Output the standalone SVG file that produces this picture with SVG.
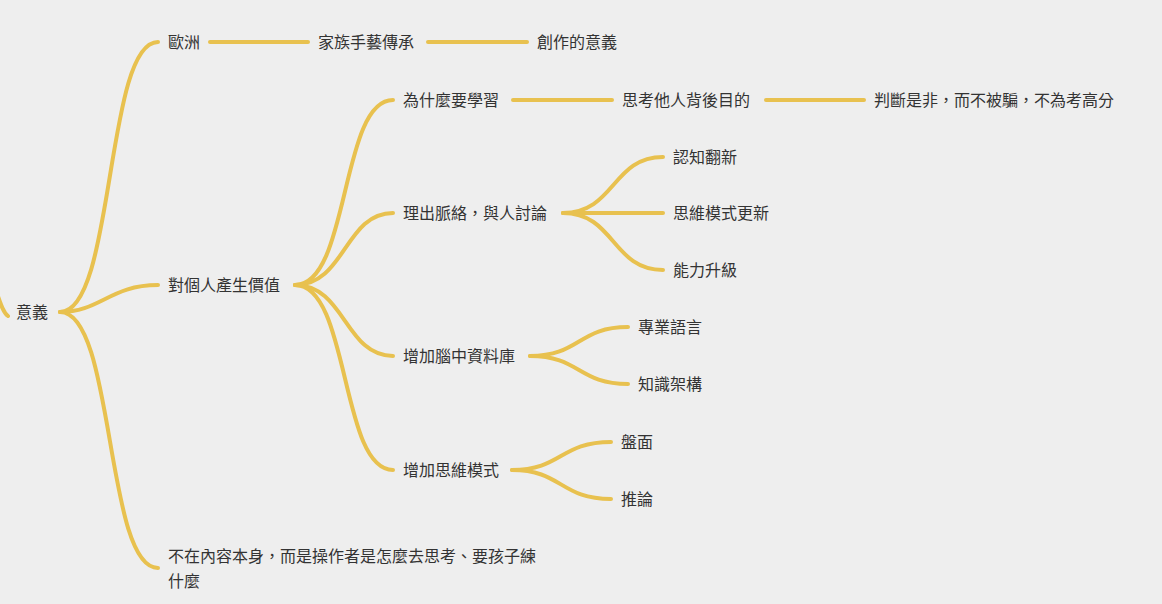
<svg xmlns="http://www.w3.org/2000/svg" width="1162" height="604" viewBox="0 0 1162 604">
<style>
.c{fill:none;stroke:#e8c14f;stroke-width:4;stroke-linecap:round}
text{font-family:"Noto Sans CJK TC","Noto Sans CJK SC",sans-serif;font-size:16px;fill:#333}
</style>
<rect width="1162" height="604" fill="#eeeeee"/>
<g id="connectors">
<path class="c" d="M-20 250 C -2 290, 0 310, 8 316"/>
<path class="c" d="M60 312 C 115 312, 105 42, 158 42"/>
<path class="c" d="M60 312 C 100 312, 110 285, 158 285"/>
<path class="c" d="M60 312 C 115 312, 105 568, 158 568"/>
<path class="c" d="M210 42 H308"/>
<path class="c" d="M428 42 H527"/>
<path class="c" d="M295 285 C 350 285, 340 100, 393 100"/>
<path class="c" d="M295 285 C 345 285, 345 213, 393 213"/>
<path class="c" d="M295 285 C 345 285, 345 356, 393 356"/>
<path class="c" d="M295 285 C 350 285, 340 470, 393 470"/>
<path class="c" d="M513 100 H612"/>
<path class="c" d="M766 100 H864"/>
<path class="c" d="M563 213 C 615 213, 612 157, 663 157"/>
<path class="c" d="M563 213 H663"/>
<path class="c" d="M563 213 C 615 213, 612 270, 663 270"/>
<path class="c" d="M530 356 C 580 356, 578 327, 628 327"/>
<path class="c" d="M530 356 C 580 356, 578 384, 628 384"/>
<path class="c" d="M512 470 C 562 470, 560 442, 611 442"/>
<path class="c" d="M512 470 C 562 470, 560 499, 611 499"/>
</g>
<g id="n-root"><text x="16" y="318">意義</text></g>
<g id="n-europe"><text x="168" y="48">歐洲</text></g>
<g id="n-family"><text x="318" y="48">家族手藝傳承</text></g>
<g id="n-create"><text x="537" y="48">創作的意義</text></g>
<g id="n-value"><text x="168" y="291">對個人產生價值</text></g>
<g id="n-why"><text x="403" y="106">為什麼要學習</text></g>
<g id="n-think"><text x="622" y="106">思考他人背後目的</text></g>
<g id="n-judge"><text x="874" y="106">判斷是非，而不被騙，不為考高分</text></g>
<g id="n-context"><text x="403" y="219">理出脈絡，與人討論</text></g>
<g id="n-cog"><text x="673" y="163">認知翻新</text></g>
<g id="n-mode"><text x="673" y="219">思維模式更新</text></g>
<g id="n-ability"><text x="673" y="276">能力升級</text></g>
<g id="n-db"><text x="403" y="362">增加腦中資料庫</text></g>
<g id="n-lang"><text x="638" y="333">專業語言</text></g>
<g id="n-frame"><text x="638" y="390">知識架構</text></g>
<g id="n-thinkmode"><text x="403" y="476">增加思維模式</text></g>
<g id="n-board"><text x="621" y="448">盤面</text></g>
<g id="n-infer"><text x="621" y="505">推論</text></g>
<g id="n-notcontent"><text x="168" y="562">不在內容本身，而是操作者是怎麼去思考、要孩子練</text><text x="168" y="587">什麼</text></g>
</svg>
